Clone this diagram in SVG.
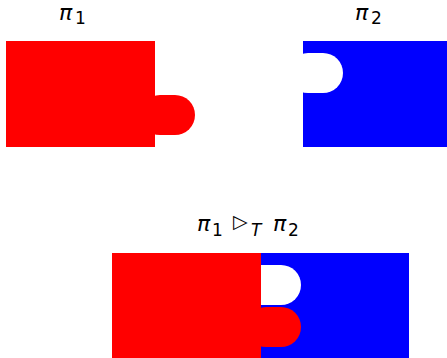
<svg xmlns="http://www.w3.org/2000/svg" width="447" height="358" viewBox="0 0 447 358">
<style>
.lbl{font-family:"DejaVu Sans",sans-serif;font-size:22px;fill:#000}
.it{font-style:italic}
.sub{font-size:17px;font-style:normal}
.tri{font-size:19px;font-style:normal}
.red{fill:#ff0000}
.blue{fill:#0000ff}
.white{fill:#ffffff}
</style>
<rect width="447" height="358" fill="#fff"/>
<g id="pi1">
<rect class="red" x="6" y="41" width="149" height="106"/>
<rect class="red" x="140" y="95" width="55" height="40" rx="20" ry="20"/>
<text class="lbl it" x="59" y="20">π<tspan class="sub" x="75" y="24">1</tspan></text>
</g>
<g id="pi2">
<rect class="blue" x="303" y="41" width="149" height="106"/>
<rect class="white" x="288" y="53" width="55" height="40" rx="20" ry="20"/>
<text class="lbl it" x="355" y="20">π<tspan class="sub" x="371" y="24">2</tspan></text>
</g>
<g id="composed">
<rect class="red" x="112" y="253" width="149" height="106"/>
<rect class="blue" x="261" y="253" width="148" height="106"/>
<path class="white" d="M261 265 H281 A20 20 0 0 1 281 305 H261 Z"/>
<rect class="red" x="246" y="307" width="55" height="40" rx="20" ry="20"/>
<text class="lbl it" x="197" y="231">π<tspan class="sub" x="212" y="236">1</tspan><tspan class="tri" x="233" y="228">▷</tspan><tspan class="sub" x="251" y="236" style="font-style:italic">T</tspan><tspan x="273" y="231">π</tspan><tspan class="sub" x="288" y="236">2</tspan></text>
</g>
</svg>
